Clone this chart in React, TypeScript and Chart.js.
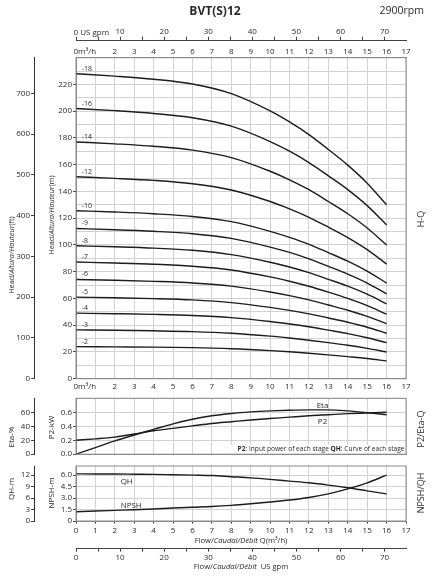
import React, { useEffect, useRef } from 'react';
import { Chart, registerables } from 'chart.js';

Chart.register(...registerables);

// ---------- data ----------
const GPM_PER_M3H = 4.40287;
const FT_PER_M = 3.28084;

const flowQ = [0, 2, 4, 6, 8, 10, 11, 12, 13, 14, 15, 16];
const stageLabels = ['-18', '-16', '-14', '-12', '-10', '-9', '-8', '-7', '-6', '-5', '-4', '-3', '-2'];
const head18 = [228, 226.2, 223.9, 220.3, 213.1, 200.2, 192, 182.5, 171.4, 159.7, 146.2, 130];
const head16 = [202, 200.4, 198.3, 195.1, 188.8, 177.3, 170.1, 161.6, 151.7, 141.4, 129.4, 115];
const head14 = [177, 175.6, 173.8, 170.9, 165.3, 155.1, 148.7, 141.3, 132.5, 123.3, 112.7, 100];
const head12 = [151, 149.8, 148.3, 145.8, 141.1, 132.5, 127, 120.7, 113.3, 105.5, 96.5, 85.7];
const head10 = [125.6, 124.6, 123.3, 121.3, 117.4, 110.2, 105.7, 100.5, 94.3, 87.9, 80.4, 71.5];
const head9 = [112.3, 111.4, 110.2, 108.4, 104.9, 98.4, 94.4, 89.6, 84, 78.2, 71.5, 63.4];
const head8 = [99.4, 98.6, 97.6, 96, 92.8, 87.1, 83.5, 79.3, 74.3, 69.2, 63.2, 56];
const head7 = [87.2, 86.5, 85.6, 84.1, 81.3, 76.1, 72.9, 69.1, 64.7, 60, 54.6, 48.2];
const head6 = [74.2, 73.6, 72.8, 71.6, 69.2, 64.8, 62.1, 58.9, 55.1, 51.2, 46.6, 41.2];
const head5 = [61, 60.5, 59.9, 58.9, 56.9, 53.3, 51.1, 48.5, 45.4, 42.2, 38.5, 34];
const head4 = [49, 48.6, 48.1, 47.3, 45.7, 42.8, 40.9, 38.8, 36.3, 33.7, 30.6, 27];
const head3 = [36.5, 36.2, 35.8, 35.2, 34, 31.8, 30.4, 28.8, 27, 25, 22.7, 20];
const head2 = [24, 23.8, 23.6, 23.2, 22.4, 21, 20.1, 19, 17.8, 16.5, 15.1, 13.3];
const headSeries = [head18, head16, head14, head12, head10, head9, head8, head7, head6, head5, head4, head3, head2];

const flowFull = [0, 1, 2, 3, 4, 5, 6, 7, 8, 9, 10, 11, 12, 13, 14, 15, 16];
const etaPct = [0, 9.5, 19, 27.5, 35.5, 43.5, 50, 55, 58.3, 60.5, 62, 63, 63.5, 63.5, 62, 59.5, 56.5];
const p2kW = [0.2, 0.22, 0.245, 0.29, 0.335, 0.37, 0.405, 0.44, 0.465, 0.49, 0.51, 0.53, 0.55, 0.565, 0.58, 0.59, 0.6];
const qhStage = [12.35, 12.3, 12.3, 12.25, 12.2, 12.1, 12.0, 11.9, 11.6, 11.3, 10.9, 10.45, 10.0, 9.4, 8.7, 7.9, 7.1];
const npshM = [1.22, 1.3, 1.39, 1.48, 1.58, 1.7, 1.8, 1.9, 2.05, 2.25, 2.48, 2.74, 3.08, 3.55, 4.2, 5.0, 6.0];

const flowTicks = [0, 1, 2, 3, 4, 5, 6, 7, 8, 9, 10, 11, 12, 13, 14, 15, 16, 17];
const gpmTickLabels = [0, 10, 20, 30, 40, 50, 60, 70];

// ---------- style ----------
const FONT = '"Open Sans", "DejaVu Sans", sans-serif';
const GRID = '#d2d2d2';
const FRAME = '#8a8a8a';
const AXIS = '#333333';
const TEXT = '#2a2a2a';
const CURVE = '#1c1c1c';
const tickFont = { family: FONT, size: 8 };

type Seg = { t: string; i?: boolean; b?: boolean };

function rich(ctx: CanvasRenderingContext2D, segs: Seg[], x: number, y: number, align: 'left' | 'center' | 'right', size: number, rotate = false) {
  ctx.save();
  const fontOf = (s: Seg) => `${s.i ? 'italic ' : ''}${s.b ? 'bold ' : ''}${size}px ${FONT}`;
  let total = 0;
  const widths = segs.map((s) => {
    ctx.font = fontOf(s);
    const w = ctx.measureText(s.t).width;
    total += w;
    return w;
  });
  ctx.translate(x, y);
  if (rotate) ctx.rotate(-Math.PI / 2);
  let cx = align === 'center' ? -total / 2 : align === 'right' ? -total : 0;
  ctx.fillStyle = TEXT;
  ctx.textBaseline = 'middle';
  ctx.textAlign = 'left';
  segs.forEach((s, k) => {
    ctx.font = fontOf(s);
    ctx.fillText(s.t, cx, 0);
    cx += widths[k];
  });
  ctx.restore();
  return total;
}

const fixed = (px: number) => (scale: any) => {
  if (scale.isHorizontal()) scale.height = px;
  else scale.width = px;
};

const frame = (chart: any) => {
  const { left, right, top, bottom } = chart.chartArea;
  const ctx = chart.ctx;
  ctx.save();
  ctx.strokeStyle = FRAME;
  ctx.lineWidth = 1;
  ctx.strokeRect(left, top, right - left, bottom - top);
  ctx.restore();
};

const curve = (label: string, xs: number[], ys: number[], yAxisID: string) => ({
  label,
  data: xs.map((x, i) => ({ x, y: ys[i] })),
  borderColor: CURVE,
  borderWidth: 1.4,
  pointRadius: 0,
  fill: false,
  cubicInterpolationMode: 'monotone' as const,
  xAxisID: 'x',
  yAxisID,
});

const flowAxis = (position: string, weight: number, height: number, labelFn: (v: number) => string, padding: number, drawOnChartArea: boolean, tickLength: number) => ({
  type: 'linear',
  position,
  weight,
  min: flowTicks[0],
  max: flowTicks[flowTicks.length - 1],
  afterFit: fixed(height),
  afterBuildTicks: (scale: any) => {
    scale.ticks = flowTicks.map((v) => ({ value: v }));
  },
  ticks: { autoSkip: false, maxRotation: 0, padding, font: tickFont, color: TEXT, callback: (v: any) => labelFn(Number(v)) },
  grid: { color: GRID, drawOnChartArea, drawTicks: tickLength > 0, tickLength, tickColor: AXIS },
  border: { color: FRAME },
});

const gpmAxis = (position: string, weight: number, height: number, showZero: boolean, tickLength: number, padding: number) => ({
  type: 'linear',
  position,
  weight,
  min: 0,
  max: flowTicks[flowTicks.length - 1] * GPM_PER_M3H,
  afterFit: fixed(height),
  ticks: {
    stepSize: 5,
    includeBounds: false,
    autoSkip: false,
    maxRotation: 0,
    padding,
    font: tickFont,
    color: TEXT,
    callback: (v: any) => (gpmTickLabels.includes(Number(v)) && (showZero || Number(v) > 0) ? String(v) : ''),
  },
  grid: { drawOnChartArea: false, drawTicks: true, tickLength, tickColor: '#444' },
  border: { color: '#444' },
});

const baseOptions = (padTop: number) => ({
  animation: false,
  responsive: false,
  maintainAspectRatio: false,
  events: [],
  layout: { padding: { left: 0, right: 34, top: padTop, bottom: 0 } },
  plugins: { legend: { display: false }, tooltip: { enabled: false }, title: { display: false } },
});

// ---------- main H-Q chart ----------
function mainConfig(): any {
  const plugin = {
    id: 'mainDeco',
    afterDraw(chart: any) {
      const ctx = chart.ctx;
      const x = chart.scales.x;
      const yM = chart.scales.yM;
      const xTop = chart.scales.xTop;
      const xG = chart.scales.xGpm;
      frame(chart);
      rich(ctx, [{ t: 'BVT(S)12', b: true }], 215, 12, 'center', 12);
      rich(ctx, [{ t: '2900rpm' }], 424, 11, 'right', 10.5);
      rich(ctx, [{ t: '0 US gpm' }], xG.getPixelForValue(0) - 2.5, xG.bottom - 8, 'left', 8);
      rich(ctx, [{ t: '0m³/h' }], xTop.getPixelForValue(0) - 2.5, xTop.bottom - 5.5, 'left', 8);
      rich(ctx, [{ t: '0m³/h' }], x.getPixelForValue(0) - 2.5, x.top + 8, 'left', 8);
      headSeries.forEach((vals, k) => {
        rich(ctx, [{ t: stageLabels[k] }], x.getPixelForValue(0.3), yM.getPixelForValue(vals[0]) - 5, 'left', 7);
      });
      rich(ctx, [{ t: 'Head/' }, { t: 'Altura/Hauteur', i: true }, { t: '(ft)' }], 12, 255, 'center', 7.2, true);
      rich(ctx, [{ t: 'Head/' }, { t: 'Altura/Hauteur', i: true }, { t: '(m)' }], 52, 215, 'center', 7.2, true);
      rich(ctx, [{ t: 'H-Q' }], 421, 219, 'center', 9, true);
    },
  };
  return {
    type: 'line',
    data: { datasets: headSeries.map((vals, k) => curve(stageLabels[k], flowQ, vals, 'yM')) },
    options: {
      ...baseOptions(0),
      scales: {
        x: flowAxis('bottom', 1, 16.3, (v) => (v <= 1 ? '' : String(v)), 3, true, 0),
        xTop: flowAxis('top', 1, 17, (v) => (v <= 1 ? '' : String(v)), 1.5, false, 0),
        xGpm: gpmAxis('top', 2, 40.7, false, 4, 0),
        yM: {
          type: 'linear',
          position: 'left',
          weight: 1,
          min: 0,
          max: 240,
          afterFit: fixed(42),
          ticks: {
            stepSize: 10,
            autoSkip: false,
            padding: 1,
            font: tickFont,
            color: TEXT,
            callback: (v: any) => (Number(v) % 20 === 0 && Number(v) <= 220 ? String(v) : ''),
          },
          grid: {
            color: GRID,
            tickLength: 3,
            tickColor: (c: any) => (c.tick && c.tick.value % 20 === 0 && c.tick.value <= 220 ? '#444' : 'rgba(0,0,0,0)'),
          },
          border: { color: FRAME },
        },
        yFt: {
          type: 'linear',
          position: 'left',
          weight: 2,
          min: 0,
          max: 240 * FT_PER_M,
          afterFit: fixed(34),
          ticks: { stepSize: 100, includeBounds: false, autoSkip: false, padding: 1, font: tickFont, color: TEXT },
          grid: { drawOnChartArea: false, tickLength: 3, tickColor: '#444' },
          border: { color: AXIS },
        },
      },
    },
    plugins: [plugin],
  };
}

// ---------- P2 / Eta chart ----------
function midConfig(): any {
  const plugin = {
    id: 'midDeco',
    afterDraw(chart: any) {
      const ctx = chart.ctx;
      const x = chart.scales.x;
      const yE = chart.scales.yEta;
      const yP = chart.scales.yP2;
      const ca = chart.chartArea;
      const noteY = ca.bottom - 5;
      ctx.save();
      ctx.fillStyle = '#ffffff';
      ctx.fillRect(228, noteY - 4.5, ca.right - 229, 9);
      ctx.restore();
      rich(ctx, [{ t: 'P2', b: true }, { t: ': Input power of each stage ' }, { t: 'QH', b: true }, { t: ': Curve of each stage' }], ca.right - 1.5, noteY, 'right', 6.6);
      frame(chart);
      rich(ctx, [{ t: 'Eta' }], x.getPixelForValue(12.7), yE.getPixelForValue(69.5), 'center', 8);
      rich(ctx, [{ t: 'P2' }], x.getPixelForValue(12.7), yP.getPixelForValue(0.47), 'center', 8);
      rich(ctx, [{ t: 'Eta-%' }], 12, 45, 'center', 8, true);
      rich(ctx, [{ t: 'P2-kW' }], 52, 35.5, 'center', 8, true);
      rich(ctx, [{ t: 'P2/Eta-Q' }], 421, 37, 'center', 9, true);
    },
  };
  return {
    type: 'line',
    data: {
      datasets: [curve('Eta', flowFull, etaPct, 'yEta'), curve('P2', flowFull, p2kW, 'yP2')],
    },
    options: {
      ...baseOptions(6.3),
      scales: {
        x: { ...flowAxis('bottom', 1, 3.3, () => '', 0, true, 0), ticks: { display: false } },
        yP2: {
          type: 'linear',
          position: 'left',
          weight: 1,
          min: 0,
          max: 0.8,
          afterFit: fixed(42),
          ticks: {
            stepSize: 0.2,
            autoSkip: false,
            padding: 1,
            font: tickFont,
            color: TEXT,
            callback: (v: any) => (Number(v) < 0.79 ? Number(v).toFixed(1) : ''),
          },
          grid: {
            color: GRID,
            tickLength: 3,
            tickColor: (c: any) => (c.tick && c.tick.value < 0.79 ? '#444' : 'rgba(0,0,0,0)'),
          },
          border: { color: FRAME },
        },
        yEta: {
          type: 'linear',
          position: 'left',
          weight: 2,
          min: 0,
          max: 80,
          afterFit: fixed(34),
          ticks: {
            stepSize: 20,
            autoSkip: false,
            padding: 1,
            font: tickFont,
            color: TEXT,
            callback: (v: any) => (Number(v) <= 60 ? String(v) : ''),
          },
          grid: {
            drawOnChartArea: false,
            tickLength: 3,
            tickColor: (c: any) => (c.tick && c.tick.value <= 60 ? '#444' : 'rgba(0,0,0,0)'),
          },
          border: { color: AXIS },
        },
      },
    },
    plugins: [plugin],
  };
}

// ---------- NPSH / QH chart ----------
function botConfig(): any {
  const plugin = {
    id: 'botDeco',
    afterDraw(chart: any) {
      const ctx = chart.ctx;
      const x = chart.scales.x;
      const yN = chart.scales.yNPSH;
      frame(chart);
      rich(ctx, [{ t: 'QH' }], x.getPixelForValue(2.3), yN.getPixelForValue(5.2), 'left', 8);
      rich(ctx, [{ t: 'NPSH' }], x.getPixelForValue(2.3), yN.getPixelForValue(2.0), 'left', 8);
      rich(ctx, [{ t: 'QH-m' }], 12, 29, 'center', 8, true);
      rich(ctx, [{ t: 'NPSH-m' }], 52, 33, 'center', 8, true);
      rich(ctx, [{ t: 'NPSH/QH' }], 421, 33, 'center', 9, true);
      const cx = x.getPixelForValue(8.5);
      rich(ctx, [{ t: 'Flow/' }, { t: 'Caudal/Débit', i: true }, { t: ' Q(m³/h)' }], cx, 80.5, 'center', 7.6);
      rich(ctx, [{ t: 'Flow/' }, { t: 'Caudal/Débit', i: true }, { t: '  US gpm' }], cx, 107, 'center', 7.6);
    },
  };
  return {
    type: 'line',
    data: {
      datasets: [curve('QH', flowFull, qhStage, 'yQH'), curve('NPSH', flowFull, npshM, 'yNPSH')],
    },
    options: {
      ...baseOptions(6),
      scales: {
        x: flowAxis('bottom', 1, 27.7, (v) => String(v), 2, true, 2.5),
        xGpmB: gpmAxis('bottom', 2, 31.3, true, 3, 1),
        yNPSH: {
          type: 'linear',
          position: 'left',
          weight: 1,
          min: 0,
          max: 7.2,
          afterFit: fixed(42),
          ticks: {
            stepSize: 1.5,
            includeBounds: false,
            autoSkip: false,
            padding: 1,
            font: tickFont,
            color: TEXT,
            callback: (v: any) => (Number(v) === 0 ? '0' : Number(v).toFixed(1)),
          },
          grid: { color: GRID, tickLength: 3, tickColor: '#444' },
          border: { color: FRAME },
        },
        yQH: {
          type: 'linear',
          position: 'left',
          weight: 2,
          min: 0,
          max: 14.4,
          afterFit: fixed(34),
          ticks: { stepSize: 3, includeBounds: false, autoSkip: false, padding: 1, font: tickFont, color: TEXT },
          grid: { drawOnChartArea: false, tickLength: 3, tickColor: '#444' },
          border: { color: AXIS },
        },
      },
    },
    plugins: [plugin],
  };
}

function ChartCanvas({ top, height, make }: { top: number; height: number; make: () => any }) {
  const ref = useRef<HTMLCanvasElement | null>(null);
  useEffect(() => {
    if (!ref.current) return;
    const chart = new Chart(ref.current, make());
    return () => chart.destroy();
  }, []);
  return (
    <canvas
      ref={ref}
      width={440}
      height={height}
      style={{ position: 'absolute', left: 0, top, width: 440, height }}
    />
  );
}

export default function App() {
  return (
    <div style={{ position: 'absolute', left: 0, top: 0, width: 440, height: 580, background: '#ffffff', overflow: 'hidden' }}>
      <ChartCanvas top={0} height={395} make={mainConfig} />
      <ChartCanvas top={392} height={68} make={midConfig} />
      <ChartCanvas top={460} height={120} make={botConfig} />
    </div>
  );
}
